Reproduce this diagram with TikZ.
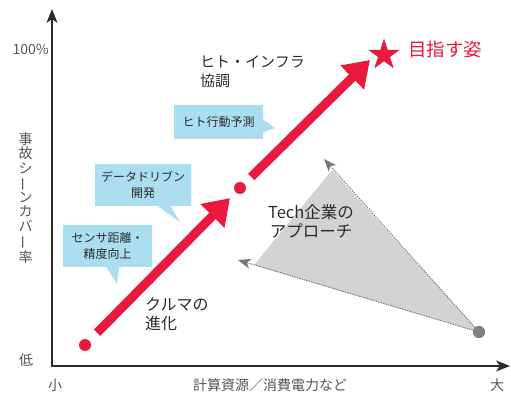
\documentclass[tikz,border=0pt]{standalone}
\usepackage{fontspec}
\setmainfont{Noto Sans CJK JP}
\usepackage{graphicx}
\usetikzlibrary{arrows.meta,shapes.geometric,shapes.callouts}
\definecolor{cred}{HTML}{E91A3D}
\definecolor{cblue}{HTML}{ABDEF0}
\definecolor{cgrayfill}{HTML}{D3D3D5}
\definecolor{cgrayline}{HTML}{77777A}
\definecolor{cgraydot}{HTML}{808083}
\definecolor{ctext}{HTML}{2B2B2B}
\definecolor{caxis}{HTML}{555555}
\newcommand{\vbar}{\rotatebox[origin=c]{90}{ー}}
\begin{document}
\begin{tikzpicture}[x=1pt,y=-1pt,
  axisline/.style={draw=ctext, line width=1.1pt, {Stealth[length=14pt,width=11pt,inset=4pt]}-{Stealth[length=14pt,width=11pt,inset=4pt]}},
  axislabel/.style={text=caxis, font=\fontsize{14}{14.5}\selectfont, inner sep=0pt},
  reddot/.style={circle, fill=cred, minimum size=12pt, inner sep=0pt},
  redarrow/.style={draw=cred, line width=9pt, -{Triangle[length=25pt,width=32pt]}},
  bubble/.style={rectangle callout, fill=cblue, text=ctext, font=\fontsize{12}{16}\selectfont, align=center, inner sep=0pt, callout pointer width=13pt},
  lbl/.style={text=ctext, font=\fontsize{15}{19}\selectfont, inner sep=0pt},
  techarrow/.style={draw=cgrayline, line width=0.9pt, dash pattern=on 1.5pt off 1pt, -{Stealth[length=13pt,width=10pt,inset=4pt]}}
]
\useasboundingbox (0,0) rectangle (511,395);
% axes
\coordinate (ytop) at (52,9);
\coordinate (O) at (52,366);
\coordinate (xend) at (510,366);
\draw[axisline] (ytop) -- (O) -- (xend);
\node[axislabel, anchor=east] (p100) at (49,49) {100\%};
\node[axislabel, align=center] (ylab) at (25.5,198) {事\\故\\シ\\\vbar\\ン\\カ\\バ\\\vbar\\率};
\node[axislabel] (low) at (26,360) {低};
\node[axislabel] (small) at (55,385) {小};
\node[axislabel] (xlab) at (270,385) {計算資源／消費電力など};
\node[axislabel] (big) at (497,385) {大};
% gray Tech approach
\node[circle, fill=cgraydot, minimum size=12pt, inner sep=0pt] (g) at (479,332) {};
\coordinate (gtop) at (332,170);
\coordinate (gleft) at (254,265);
\coordinate (ttop) at (324,159);
\coordinate (tleft) at (238,260);
\fill[cgrayfill] (g.center) -- (gtop) -- (gleft) -- cycle;
\draw[techarrow] (g) -- (ttop);
\draw[techarrow] (g) -- (tleft);
\node[circle, fill=cgraydot, minimum size=12pt, inner sep=0pt] at (g.center) {};
\node[lbl, align=center, font=\fontsize{16.5}{18.5}\selectfont] (tech) at (311,221.5) {Tech企業の\\アプローチ};
% red evolution
\node[reddot] (d1) at (85,345) {};
\node[reddot] (d2) at (240,188) {};
\node[star, star points=5, star point ratio=2.618, fill=cred, minimum size=33pt, inner sep=0pt] (goal) at (384,55) {};
\coordinate (tip2) at ([xshift=-14pt,yshift=-5pt]goal.center);
\draw[redarrow, shorten <=11pt, shorten >=8pt] (d1) -- (d2);
\draw[redarrow, shorten <=9.6pt] (d2) -- (tip2);
\node[text=cred, font=\fontsize{18.5}{20}\selectfont, inner sep=0pt, anchor=west] (goaltext) at (408,49.5) {目指す姿};
\node[lbl, align=left, anchor=west] (infra) at (200,72) {ヒト・インフラ\\協調};
\node[lbl, align=left, anchor=west, font=\fontsize{16}{19}\selectfont] (car) at (145,314.5) {クルマの\\進化};
% callouts
\node[bubble, minimum width=89pt, minimum height=34pt, callout absolute pointer={(275,128)}] (c1) at (218.5,122) {ヒト行動予測};
\node[bubble, minimum width=96pt, minimum height=42pt, callout absolute pointer={(180,222)}] (c2) at (143,185) {データドリブン\\開発};
\node[bubble, minimum width=89pt, minimum height=42pt, callout absolute pointer={(117,284)}] (c3) at (107.5,246) {センサ距離・\\精度向上};
\end{tikzpicture}
\end{document}
